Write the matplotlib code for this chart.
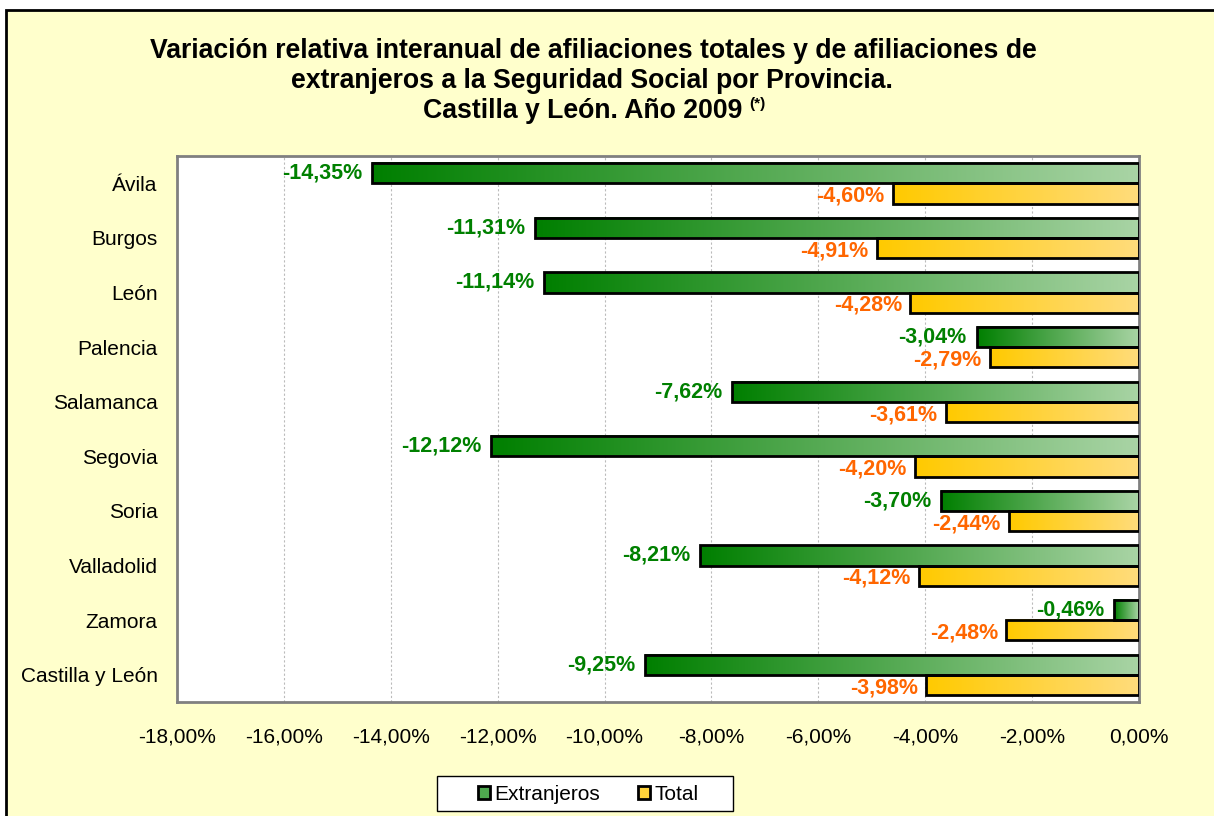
import numpy as np
import matplotlib.pyplot as plt
from matplotlib.colors import LinearSegmentedColormap
from matplotlib.patches import Rectangle

provincias = ['Ávila', 'Burgos', 'León', 'Palencia', 'Salamanca', 'Segovia',
              'Soria', 'Valladolid', 'Zamora', 'Castilla y León']
extranjeros = [-14.35, -11.31, -11.14, -3.04, -7.62, -12.12, -3.70, -8.21, -0.46, -9.25]
total = [-4.60, -4.91, -4.28, -2.79, -3.61, -4.20, -2.44, -4.12, -2.48, -3.98]
xticks = [-18, -16, -14, -12, -10, -8, -6, -4, -2, 0]

plt.rcParams['font.family'] = ['Liberation Sans', 'DejaVu Sans']

bg = '#FFFFCC'
cmap_ext = LinearSegmentedColormap.from_list('ext', ['#007F00', '#A9D4A5'])
cmap_tot = LinearSegmentedColormap.from_list('tot', ['#FFCA00', '#FFDC7C'])
grad = np.linspace(0, 1, 256).reshape(1, -1)

fig = plt.figure(figsize=(12.14, 8.16), dpi=100, facecolor='white')
fig.patches.append(Rectangle((0.005, -0.05), 1.2, 1.038, transform=fig.transFigure,
                             facecolor=bg, edgecolor='black', linewidth=2, zorder=-1))
ax = fig.add_axes([0.1458, 0.1397, 0.7924, 0.6691])
ax.set_facecolor('white')

y = np.arange(len(provincias))
h = 0.37
b1 = ax.barh(y - h / 2, extranjeros, height=h, facecolor='none', edgecolor='black',
             linewidth=2, zorder=3)
b2 = ax.barh(y + h / 2, total, height=h, facecolor='none', edgecolor='black',
             linewidth=2, zorder=3)


def fill_gradient(bars, cmap):
    # horizontal gradient inside each bar, dark at the bar end
    for p in bars:
        x0, w = p.get_x(), p.get_width()
        y0, hh = p.get_y(), p.get_height()
        xl, xr = min(x0, x0 + w), max(x0, x0 + w)
        ax.imshow(grad, cmap=cmap, extent=(xl, xr, y0 + hh, y0), aspect='auto',
                  interpolation='bicubic', zorder=2)


fill_gradient(b1, cmap_ext)
fill_gradient(b2, cmap_tot)


def fmt(v):
    return f'{v:.2f}%'.replace('.', ',')


for p, v in zip(b1, extranjeros):
    ax.annotate(fmt(v), (v, p.get_y() + p.get_height() / 2), xytext=(-7, 0),
                textcoords='offset points', ha='right', va='center',
                fontsize=15.5, fontweight='bold', color='#008000', zorder=4)
for p, v in zip(b2, total):
    ax.annotate(fmt(v), (v, p.get_y() + p.get_height() / 2), xytext=(-6, -2),
                textcoords='offset points', ha='right', va='center',
                fontsize=15.5, fontweight='bold', color='#FF6600', zorder=4)

ax.set_xlim(-18, 0)
ax.set_ylim(len(provincias) - 0.5, -0.5)
ax.set_yticks(y)
ax.set_yticklabels(provincias, fontsize=15)
ax.set_xticks(xticks)
ax.set_xticklabels([fmt(t) for t in xticks], fontsize=15)
ax.tick_params(axis='y', length=0, pad=14)
ax.tick_params(axis='x', length=0, pad=18)
ax.grid(axis='x', color='#BBBBBB', linestyle=(0, (2, 2)), linewidth=0.8, zorder=0)
ax.set_axisbelow(True)
for s in ax.spines.values():
    s.set_color('#808080')
    s.set_linewidth(2)

# title, one line at a time
tkw = dict(ha='center', va='center', fontsize=19.2, fontweight='bold')
fig.text(0.4885, 1 - 51 / 816,
         'Variación relativa interanual de afiliaciones totales y de afiliaciones de', **tkw)
fig.text(0.4880, 1 - 81 / 816, 'extranjeros a la Seguridad Social por Provincia.', **tkw)
t3 = fig.text(0.4802, 1 - 111 / 816, 'Castilla y León. Año 2009', **tkw)
ax.annotate('(*)', xy=(1, 1), xycoords=t3, xytext=(5, 1), textcoords='offset points',
            ha='left', va='top', fontsize=11, fontweight='bold', annotation_clip=False)

# legend
fig.patches.append(Rectangle((437 / 1214, 1 - 811 / 816), 296 / 1214, 35 / 816,
                             transform=fig.transFigure, facecolor='white',
                             edgecolor='black', linewidth=1, zorder=1))
h1 = Rectangle((0, 0), 1, 1, facecolor='#4FA84F', edgecolor='black', linewidth=2)
h2 = Rectangle((0, 0), 1, 1, facecolor='#FFD33A', edgecolor='black', linewidth=2)
leg = fig.legend([h1, h2], ['Extranjeros', 'Total'], loc='center',
                 bbox_to_anchor=(0.4843, 1 - 794 / 816), ncol=2, fontsize=15,
                 frameon=False, handlelength=0.6, handleheight=0.6,
                 handletextpad=0.2, columnspacing=1.8, borderpad=0.3)
leg.set_zorder(2)

fig.savefig('out.png', dpi=100, facecolor=fig.get_facecolor())
